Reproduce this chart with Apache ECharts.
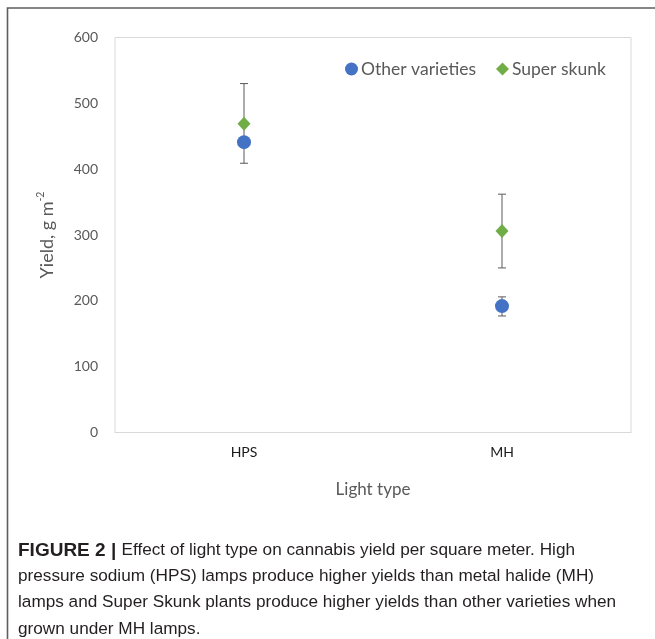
<!DOCTYPE html>
<html>
<head>
<meta charset="utf-8">
<script src="https://cdn.jsdelivr.net/npm/echarts@6/dist/echarts.min.js"></script>
<style>
  html, body { margin: 0; padding: 0; background: #fff; }
  #chart { width: 655px; height: 639px; }
</style>
</head>
<body>
<div id="chart"></div>
<script>
var chartDom = document.getElementById('chart');
var myChart = echarts.init(chartDom);
var option;

// data
let categories = ['HPS', 'MH'];
let otherMean = [441, 192];
let otherLow = [434, 177];
let otherHigh = [448, 206];
let skunkMean = [469, 306];
let skunkLow = [409, 250];
let skunkHigh = [530, 362];

let captionLines = [
    '{b|FIGURE 2 | }Effect of light type on cannabis yield per square meter. High',
    'pressure sodium (HPS) lamps produce higher yields than metal halide (MH)',
    'lamps and Super Skunk plants produce higher yields than other varieties when',
    'grown under MH lamps.'
];

const axisGrey = '#595959';
const blue = '#4472C4';
const green = '#70AD47';

function errorData(low, high) {
    return categories.map(function (c, i) {
        return [i, low[i], high[i]];
    });
}

function renderError(params, api) {
    var lo = api.coord([api.value(0), api.value(1)]);
    var hi = api.coord([api.value(0), api.value(2)]);
    var cap = 4;
    var st = { stroke: '#5a5a5a', lineWidth: 1 };
    return {
        type: 'group',
        children: [
            { type: 'line', shape: { x1: lo[0], y1: lo[1], x2: hi[0], y2: hi[1] }, style: st },
            { type: 'line', shape: { x1: lo[0] - cap, y1: lo[1], x2: lo[0] + cap, y2: lo[1] }, style: st },
            { type: 'line', shape: { x1: hi[0] - cap, y1: hi[1], x2: hi[0] + cap, y2: hi[1] }, style: st }
        ]
    };
}

let captionGraphics = captionLines.map(function (line, i) {
    return {
        type: 'text',
        left: 18,
        top: 541 + i * 26.5,
        style: {
            text: line,
            fill: '#231f20',
            font: '17.2px "Liberation Sans"',
            rich: {
                b: { fontWeight: 'bold', fontSize: 19, fontFamily: 'Liberation Sans', fill: '#231f20' }
            }
        }
    };
});

option = {
    animation: false,
    textStyle: { fontFamily: 'Lato' },
    graphic: [{
        type: 'rect',
        shape: { x: 7.5, y: 8, width: 700, height: 700 },
        style: { fill: 'none', stroke: '#5e5e5e', lineWidth: 1.6 },
        z: -1
    }].concat(captionGraphics),
    legend: {
        left: 340,
        top: 55,
        itemGap: 20,
        itemWidth: 13,
        itemHeight: 13,
        textStyle: { fontSize: 17.5, color: axisGrey, fontFamily: 'Lato', padding: [0, 0, 0, -2] },
        data: [
            { name: 'Other varieties', icon: 'circle' },
            { name: 'Super skunk', icon: 'diamond' }
        ]
    },
    grid: {
        left: 115,
        right: 24,
        top: 37.5,
        bottom: 639 - 432.5,
        show: true,
        borderColor: '#d9d9d9',
        borderWidth: 1
    },
    xAxis: {
        type: 'category',
        data: categories,
        boundaryGap: true,
        axisLine: { show: true, lineStyle: { color: '#d9d9d9' } },
        axisTick: { show: false },
        axisLabel: { color: '#1a1a1a', fontSize: 14, margin: 13, fontFamily: 'Lato' },
        name: 'Light type',
        nameLocation: 'middle',
        nameGap: 49,
        nameTextStyle: { color: axisGrey, fontSize: 17, fontFamily: 'Lato' }
    },
    yAxis: {
        type: 'value',
        min: 0,
        max: 600,
        interval: 100,
        axisLine: { show: false },
        axisTick: { show: false },
        splitLine: { show: false },
        axisLabel: { color: axisGrey, fontSize: 14, margin: 17, fontFamily: 'Lato' },
        name: '{a|Yield, g m}{s|-2}',
        nameLocation: 'middle',
        nameGap: 59,
        nameTextStyle: {
            color: axisGrey,
            fontFamily: 'Lato',
            rich: {
                a: { fontSize: 18, color: axisGrey, fontFamily: 'Lato', lineHeight: 21, verticalAlign: 'bottom' },
                s: { fontSize: 10.5, color: axisGrey, fontFamily: 'Lato', lineHeight: 21, verticalAlign: 'top' }
            }
        }
    },
    series: [{
        name: 'Other varieties err',
        type: 'custom',
        renderItem: renderError,
        data: errorData(otherLow, otherHigh),
        encode: { x: 0, y: [1, 2] },
        z: 1
    }, {
        name: 'Super skunk err',
        type: 'custom',
        renderItem: renderError,
        data: errorData(skunkLow, skunkHigh),
        encode: { x: 0, y: [1, 2] },
        z: 1
    }, {
        name: 'Other varieties',
        type: 'scatter',
        symbol: 'circle',
        symbolSize: 14,
        itemStyle: { color: blue, opacity: 1 },
        data: otherMean,
        z: 3
    }, {
        name: 'Super skunk',
        type: 'scatter',
        symbol: 'diamond',
        symbolSize: [13, 14],
        itemStyle: { color: green, opacity: 1 },
        data: skunkMean,
        z: 4
    }]
};

option && myChart.setOption(option);

window.onresize = function () {
    myChart.resize();
};
</script>
</body>
</html>
